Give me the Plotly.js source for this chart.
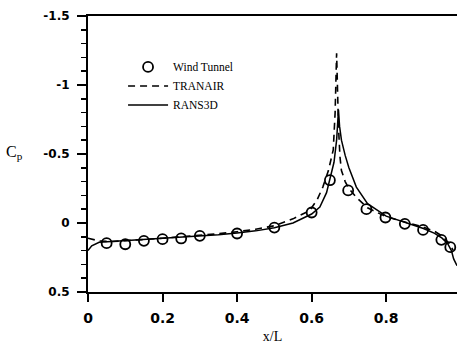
<!DOCTYPE html>
<html>
<head>
<meta charset="utf-8">
<script src="https://cdn.plot.ly/plotly-3.0.1.min.js"></script>
<style>html,body{margin:0;padding:0;background:#fff;}#chart{width:457px;height:344px;}</style>
</head>
<body>
<div id="chart"></div>
<script>
// Wind tunnel measurements
const windX = [0.05, 0.1, 0.15, 0.2, 0.25, 0.3, 0.4, 0.5, 0.6, 0.649, 0.698, 0.747, 0.798, 0.85, 0.899, 0.948, 0.972];
const windCp = [0.146, 0.154, 0.129, 0.117, 0.112, 0.093, 0.076, 0.033, -0.076, -0.31, -0.236, -0.10, -0.04, 0.006, 0.05, 0.122, 0.175];

// TRANAIR (dashed)
const tranX = [0, 0.03, 0.06, 0.1, 0.15, 0.2, 0.25, 0.3, 0.35, 0.4, 0.45, 0.5, 0.55, 0.595, 0.615, 0.63, 0.645, 0.658, 0.663, 0.667, 0.669, 0.672, 0.676, 0.68, 0.69, 0.7, 0.72, 0.75, 0.8, 0.85, 0.9, 0.93, 0.95, 0.97, 0.98];
const tranCp = [0.11, 0.13, 0.135, 0.13, 0.12, 0.11, 0.1, 0.088, 0.078, 0.063, 0.045, 0.02, -0.03, -0.09, -0.17, -0.26, -0.38, -0.53, -0.8, -1.23, -1.0, -0.7, -0.48, -0.38, -0.3, -0.25, -0.185, -0.11, -0.045, -0.008, 0.03, 0.06, 0.095, 0.15, 0.2];

// RANS3D (solid)
const ransX = [0, 0.01, 0.03, 0.06, 0.1, 0.15, 0.2, 0.25, 0.3, 0.35, 0.4, 0.45, 0.5, 0.55, 0.6, 0.622, 0.64, 0.649, 0.66, 0.667, 0.672, 0.675, 0.68, 0.69, 0.7, 0.72, 0.75, 0.8, 0.85, 0.9, 0.93, 0.95, 0.965, 0.975, 0.981, 0.99];
const ransCp = [0.2, 0.165, 0.14, 0.135, 0.13, 0.122, 0.114, 0.105, 0.095, 0.085, 0.072, 0.057, 0.035, 0.0, -0.065, -0.115, -0.22, -0.31, -0.44, -0.6, -0.82, -0.7, -0.6, -0.49, -0.4, -0.26, -0.14, -0.05, -0.005, 0.04, 0.075, 0.11, 0.15, 0.2, 0.26, 0.31];

// Tick labels
const xTickVals = [0, 0.2, 0.4, 0.6, 0.8];
const xTickText = ['0', '0.2', '0.4', '0.6', '0.8'];
const yTickVals = [-1.5, -1, -0.5, 0, 0.5];
const yTickText = ['-1.5', '-1', '-0.5', '0', '0.5'];

const traces = [
  {x: windX, y: windCp, name: 'Wind Tunnel', type: 'scatter', mode: 'markers',
   marker: {symbol: 'circle-open', size: 10, color: '#000', line: {width: 1.8, color: '#000'}}},
  {x: tranX, y: tranCp, name: 'TRANAIR', type: 'scatter', mode: 'lines',
   line: {color: '#000', width: 1.6, dash: '7px,5px'}},
  {x: ransX, y: ransCp, name: 'RANS3D', type: 'scatter', mode: 'lines',
   line: {color: '#000', width: 1.5}}
];

const layout = {
  width: 457, height: 344,
  margin: {l: 88, r: 0, t: 16, b: 52, pad: 0},
  paper_bgcolor: '#fff', plot_bgcolor: '#fff',
  showlegend: true,
  legend: {x: 0.095, y: 0.868, xanchor: 'left', yanchor: 'top', bgcolor: 'rgba(0,0,0,0)',
           font: {family: 'Liberation Serif', size: 11.5, color: '#000'}, itemwidth: 40, tracegroupgap: 0},
  xaxis: {range: [0, 0.99], tickvals: xTickVals, ticktext: xTickText, ticks: 'outside', ticklen: 8, tickwidth: 2,
          tickcolor: '#000', showline: true, linewidth: 2, linecolor: '#000', mirror: true, showgrid: false, zeroline: false,
          ticklabelstandoff: 4,
          tickfont: {family: 'DejaVu Sans', size: 14, color: '#000', weight: 'bold'},
          title: {text: 'x/L', font: {family: 'Liberation Serif', size: 14, color: '#000'}, standoff: 10}},
  yaxis: {range: [0.5, -1.5], tickvals: yTickVals, ticktext: yTickText, ticks: 'outside', ticklen: 9, tickwidth: 2,
          tickcolor: '#000', showline: true, linewidth: 2, linecolor: '#000', mirror: false, showgrid: false, zeroline: false,
          ticklabelstandoff: 5,
          tickfont: {family: 'DejaVu Sans', size: 12, color: '#000', weight: 'bold'},
          minor: {dtick: 0.1, ticks: 'outside', ticklen: 5, tickwidth: 1.5, tickcolor: '#000', showgrid: false}},
  annotations: [
    {text: 'C<sub>p</sub>', xref: 'paper', yref: 'paper', x: -0.2, y: 0.505, xanchor: 'center', yanchor: 'middle',
     showarrow: false, font: {family: 'Liberation Serif', size: 16, color: '#000'}}
  ]
};

Plotly.newPlot('chart', traces, layout, {displayModeBar: false, staticPlot: true});
</script>
</body>
</html>
